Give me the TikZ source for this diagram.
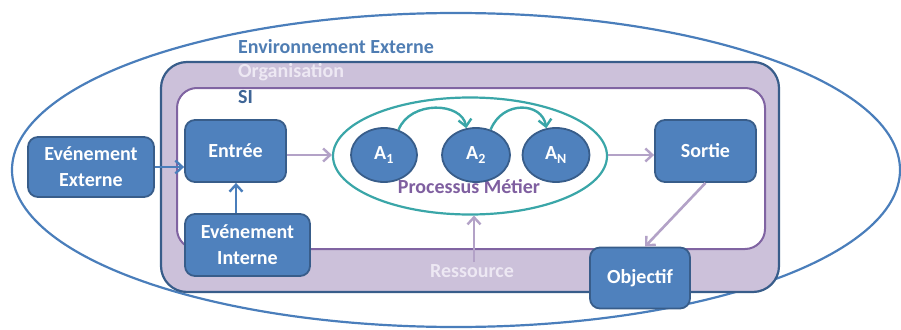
\documentclass[tikz,border=0pt]{standalone}
\usepackage{fontspec}
\setmainfont{Carlito}
\usetikzlibrary{arrows.meta,shapes.geometric,calc}
\definecolor{boxfill}{HTML}{4F81BD}
\definecolor{boxdraw}{HTML}{385D8A}
\definecolor{envblue}{HTML}{4A7EBB}
\definecolor{orgfill}{HTML}{CCC1DA}
\definecolor{sipurple}{HTML}{8064A2}
\definecolor{lav}{HTML}{B3A2C7}
\definecolor{teal}{HTML}{3AA6A8}
\definecolor{pmtext}{HTML}{7F5FA0}
\definecolor{palelav}{HTML}{EDE8F3}
\definecolor{titleblue}{HTML}{4F7DB3}
\definecolor{sidark}{HTML}{3E6596}
\tikzset{
  bluebox/.style={draw=boxdraw, fill=boxfill, line width=1.8pt, rounded corners=10pt,
    text=white, font=\fontsize{20}{24}\selectfont\bfseries, align=center, inner sep=0pt},
  actnode/.style={ellipse, draw=boxdraw, fill=boxfill, line width=1.8pt,
    text=white, font=\fontsize{20}{24}\selectfont\bfseries, inner sep=0pt},
  lavarrow/.style={draw=lav, line width=2.6pt, -{Straight Barb[length=7pt,width=13pt,line width=2.4pt]}},
  bluearrow/.style={draw=envblue, line width=2.6pt, -{Straight Barb[length=7pt,width=13pt,line width=2.4pt]}},
  tealarrow/.style={draw=teal, line width=2.4pt, -{Straight Barb[length=7pt,width=13pt,line width=2.4pt]}},
  lbl/.style={anchor=west, font=\fontsize{20}{24}\selectfont\bfseries, inner sep=0pt}
}
\begin{document}
\begin{tikzpicture}[x=1pt,y=-1pt]
\useasboundingbox (0,0) rectangle (901,329);
% outer ellipse
\draw[envblue, line width=2.2pt] (456,170) ellipse [x radius=444, y radius=157];
% organisation
\draw[boxdraw, fill=orgfill, line width=2.2pt, rounded corners=26pt] (161,62) rectangle (779,292);
% SI
\draw[sipurple, fill=white, line width=2pt, rounded corners=20pt] (177,88) rectangle (765,249);
% labels
\node[lbl, text=titleblue] (env) at (238,47) {Environnement Externe};
\node[lbl, text=palelav] (org) at (238,72) {Organisation};
\node[lbl, text=sidark] (si) at (238,97) {SI};
% process ellipse
\node[ellipse, draw=teal, line width=2.2pt, minimum width=274pt, minimum height=117pt, inner sep=0pt] (pm) at (470,156) {};
\node[font=\fontsize{20}{24}\selectfont\bfseries, text=pmtext, inner sep=0pt] (pmt) at (469,187) {Processus Métier};
% activities
\node[actnode, minimum width=66pt, minimum height=54pt] (a1) at (384,155) {A\textsubscript{1}};
\node[actnode, minimum width=68pt, minimum height=54pt] (a2) at (476,155) {A\textsubscript{2}};
\node[actnode, minimum width=67pt, minimum height=54pt] (an) at (556,155) {A\textsubscript{N}};
\draw[tealarrow] (a1.60) .. controls ++(12,-30) and ++(-4,-26) .. (a2.110);
\draw[tealarrow] (a2.60) .. controls ++(12,-30) and ++(-4,-26) .. (an.110);
% boxes
\node[bluebox, minimum width=126pt, minimum height=60pt] (ee) at (91,167) {Evénement\\[2pt]Externe};
\node[bluebox, minimum width=101pt, minimum height=62pt] (en) at (235.5,151) {Entrée};
\node[bluebox, minimum width=125pt, minimum height=62pt] (ei) at (247.5,245) {Evénement\\[2pt]Interne};
\node[bluebox, minimum width=101pt, minimum height=62pt] (so) at (705.5,151) {Sortie};
\node[bluebox, minimum width=100pt, minimum height=61pt] (ob) at (640,278) {Objectif};
% resource label
\node[font=\fontsize{20}{24}\selectfont\bfseries, text=palelav, inner sep=0pt] (res) at (472,271) {Ressource};
\coordinate (resbot) at (474,262);
% arrows
\draw[bluearrow] (ee.east |- 0,167) -- (en.west |- 0,167);
\draw[bluearrow] (ei.north -| 236,0) -- (en.south -| 236,0);
\draw[lavarrow] (en.east |- 0,155) -- (pm.west |- 0,155);
\draw[lavarrow] (pm.east |- 0,155) -- (so.west |- 0,155);
\draw[lavarrow] (resbot) -- (pm.south -| resbot);
\draw[lavarrow] (so.south) -- ($(ob.north)+(5,0)$);
\end{tikzpicture}
\end{document}
